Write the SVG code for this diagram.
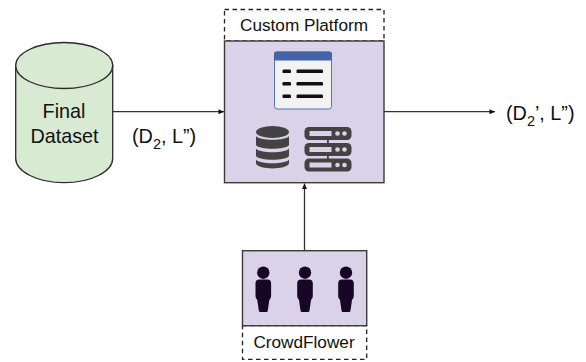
<svg xmlns="http://www.w3.org/2000/svg" width="586" height="362" viewBox="0 0 586 362">
<style>
text{font-family:"Liberation Sans",Arial,sans-serif;fill:#111}
.lbl{font-size:19.8px}
.sub{font-size:14.5px}
.cap{font-size:17.2px;text-anchor:middle}
.big{font-size:19.8px;text-anchor:middle}
.box{fill:#d9d2e9;stroke:#3a3a3a;stroke-width:1.4}
.dash{fill:#fff;stroke:#222;stroke-width:1.3;stroke-dasharray:4.5 3.5}
.conn{fill:none;stroke:#333;stroke-width:1.3;marker-end:url(#arr)}
.ic{fill:#434343}
.pers{fill:#170626}
</style>
<defs>
<marker id="arr" markerUnits="userSpaceOnUse" markerWidth="7" markerHeight="7" refX="6" refY="3.5" orient="auto">
<path d="M0.5 1 L6 3.5 L0.5 6 Z" fill="#111"/>
</marker>
<g id="person">
<circle cx="0" cy="-14.300" r="6.200" class="pers"/>
<path class="pers" d="M-4 -7.500 H4 Q7.800 -7.500 7.800 -3.500 V9 Q7.800 11.500 6 13 L4.500 23.500 Q4.300 25 3 25 H-3 Q-4.300 25 -4.500 23.500 L-6 13 Q-7.800 11.500 -7.800 9 V-3.500 Q-7.800 -7.500 -4 -7.500 Z"/>
</g>
<g id="srv">
<rect x="0" y="0" width="47" height="13" rx="4.500" class="ic"/>
<rect x="5" y="4" width="22" height="5" fill="#d9d2e9"/>
<circle cx="33" cy="6.500" r="2.300" fill="#d9d2e9"/>
<circle cx="40" cy="6.500" r="2.300" fill="#d9d2e9"/>
</g>
</defs>
<g id="connectors">
<path class="conn" d="M113 111.700 H224"/>
<path class="conn" d="M384 111.700 H495"/>
<path class="conn" d="M304.500 250.500 V183.500"/>
</g>
<g id="final-dataset">
<path d="M15.700 65.500 V158.500 C15.700 171.500 37.500 182.700 64.200 182.700 C91 182.700 112.700 171.500 112.700 158.500 V65.500 Z" fill="#d9ead3" stroke="#2a2a2a" stroke-width="1.300"/>
<ellipse cx="64.200" cy="65.500" rx="48.500" ry="23" fill="#d9ead3" stroke="#2a2a2a" stroke-width="1.300"/>
<text class="big" x="64" y="118">Final</text>
<text class="big" x="64.500" y="143">Dataset</text>
</g>
<g id="label-in">
<text class="lbl" x="132" y="143">(D<tspan class="sub" dy="6">2</tspan><tspan dy="-6">, L”)</tspan></text>
</g>
<g id="custom-platform">
<rect class="dash" x="224.500" y="9.500" width="159.500" height="31.500"/>
<text class="cap" x="304" y="30.500">Custom Platform</text>
<rect class="box" x="224.500" y="41" width="159.500" height="141.700"/>
<g id="list-icon">
<rect x="274.500" y="52" width="57" height="57" rx="2.500" fill="#f3f3f3" stroke="#5577b0" stroke-width="1"/>
<path d="M274 60.500 V54 Q274 51.500 276.500 51.500 H329.500 Q332 51.500 332 54 V60.500 Z" fill="#4464a8"/>
<g fill="#111">
<rect x="282.500" y="69.500" width="8.500" height="3.600" rx="1.200"/>
<rect x="296.500" y="69.500" width="26.500" height="3.600" rx="1.200"/>
<rect x="282.500" y="82" width="8.500" height="3.600" rx="1.200"/>
<rect x="296.500" y="82" width="26.500" height="3.600" rx="1.200"/>
<rect x="282.500" y="94.500" width="8.500" height="3.600" rx="1.200"/>
<rect x="296.500" y="94.500" width="26.500" height="3.600" rx="1.200"/>
</g>
</g>
<g id="db-icon" class="ic">
<ellipse cx="272.500" cy="132" rx="16.500" ry="6"/>
<path d="M256 136 C259 141 286 141 289 136 V145 C286 150 259 150 256 145 Z"/>
<path d="M256 148.500 C259 153.500 286 153.500 289 148.500 V156 C286 161 259 161 256 156 Z"/>
<path d="M256 159.500 C259 164.500 286 164.500 289 159.500 V163.500 C286 170 259 170 256 163.500 Z"/>
</g>
<g id="server-icon">
<rect x="327" y="135" width="1.800" height="30" class="ic"/>
<use href="#srv" x="304.500" y="127"/>
<use href="#srv" x="304.500" y="143"/>
<use href="#srv" x="304.500" y="158.500"/>
</g>
</g>
<g id="crowdflower">
<rect class="dash" x="242.500" y="325.700" width="124.200" height="33.600"/>
<text class="cap" x="304" y="348">CrowdFlower</text>
<rect class="box" x="242.500" y="250.700" width="124.200" height="75"/>
<use href="#person" x="263.300" y="287"/>
<use href="#person" x="305" y="287"/>
<use href="#person" x="346" y="287"/>
</g>
<g id="label-out">
<text class="lbl" x="506" y="120">(D<tspan class="sub" dy="6">2</tspan><tspan dy="-6">’, L”)</tspan></text>
</g>
</svg>
